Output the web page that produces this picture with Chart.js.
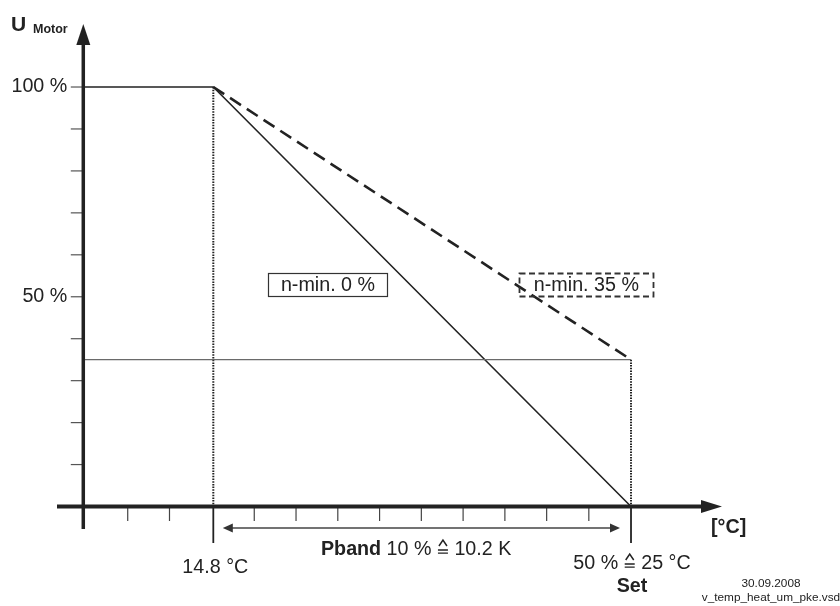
<!DOCTYPE html>
<html>
<head>
<meta charset="utf-8">
<script src="https://cdn.jsdelivr.net/npm/chart.js@4/dist/chart.umd.min.js"></script>
<style>
  html, body { margin: 0; padding: 0; background: #ffffff; }
  #wrap { width: 840px; height: 606px; }
</style>
</head>
<body>
<div id="wrap"><canvas id="c" width="840" height="606"></canvas></div>
<script>
// ---- data (x in °C, y in % motor voltage) ----
const xOrigin = 11.625;
const tempStart = 14.8;
const tempSet = 25.0;
const nmin0X = [11.625, 14.8, 25.0];
const nmin0Y = [100, 100, 0];
const nmin35X = [14.8, 25.0];
const nmin35Y = [100, 35];
const minLineX = [11.625, 25.0];
const minLineY = [35, 35];
const dropStartX = [14.8, 14.8];
const dropStartY = [100, 0];
const dropSetX = [25.0, 25.0];
const dropSetY = [35, 0];
const xTickValues = [12.71, 13.73, 14.8, 15.80, 16.82, 17.84, 18.86, 19.88, 20.90, 21.92, 22.94, 23.97, 25.0];
const yTickValues = [10, 20, 30, 40, 50, 60, 70, 80, 90, 100];
const yTickLabels = ['', '', '', '', '50 %', '', '', '', '', '100 %'];
const boxLabels = ['n-min. 0 %', 'n-min. 35 %'];
const boxX = [17.6, 23.91];
const boxY = [52.9, 52.9];

const FONT = '"Liberation Sans", Arial, "DejaVu Sans", sans-serif';
const INK = '#222222';
const FS = 19.7;
const HAT_W = 12;

function pts(xs, ys) { return xs.map((x, i) => ({ x: x, y: ys[i] })); }

// parts: {t:'text', b:bold} or {hat:true} (corresponds-to sign: ^ over =)
function richWidth(ctx, parts) {
  let w = 0;
  parts.forEach(p => {
    ctx.font = (p.b ? 'bold ' : '') + FS + 'px ' + FONT;
    w += p.hat ? HAT_W : ctx.measureText(p.t).width;
  });
  return w;
}
function drawRich(ctx, parts, cx, b) {
  let x = cx - richWidth(ctx, parts) / 2;
  ctx.textAlign = 'left';
  ctx.textBaseline = 'alphabetic';
  parts.forEach(p => {
    ctx.font = (p.b ? 'bold ' : '') + FS + 'px ' + FONT;
    if (p.hat) {
      const w = HAT_W;
      ctx.save();
      ctx.strokeStyle = ctx.fillStyle;
      ctx.lineWidth = 1.5;
      ctx.beginPath();
      ctx.moveTo(x + 2, b - 9); ctx.lineTo(x + w / 2, b - 15); ctx.lineTo(x + w - 2, b - 9);
      ctx.stroke();
      ctx.lineWidth = 1.3;
      ctx.beginPath();
      ctx.moveTo(x + 1, b - 5); ctx.lineTo(x + w - 1, b - 5);
      ctx.moveTo(x + 1, b - 1.8); ctx.lineTo(x + w - 1, b - 1.8);
      ctx.stroke();
      ctx.restore();
      x += w;
    } else {
      ctx.fillText(p.t, x, b);
      x += ctx.measureText(p.t).width;
    }
  });
}

const annot = {
  id: 'annot',
  afterDatasetsDraw(chart) {
    const ctx = chart.ctx;
    const xs = chart.scales.x, ys = chart.scales.y;
    const X = v => xs.getPixelForValue(v);
    const Y = v => ys.getPixelForValue(v);
    const ox = X(xOrigin), oy = Y(0);
    ctx.save();

    // y ticks (left of axis)
    ctx.strokeStyle = '#555';
    ctx.lineWidth = 1.2;
    yTickValues.forEach(v => {
      ctx.beginPath(); ctx.moveTo(ox - 12.5, Y(v)); ctx.lineTo(ox, Y(v)); ctx.stroke();
    });
    // x ticks (below axis)
    xTickValues.forEach(v => {
      const long = (v === tempStart || v === tempSet);
      ctx.strokeStyle = long ? INK : '#444';
      ctx.lineWidth = long ? 1.8 : 1.2;
      ctx.beginPath(); ctx.moveTo(X(v), oy); ctx.lineTo(X(v), oy + (long ? 36.5 : 14.5)); ctx.stroke();
    });

    // axes
    ctx.strokeStyle = INK; ctx.fillStyle = INK;
    ctx.lineWidth = 3.5;
    ctx.beginPath(); ctx.moveTo(ox, chart.chartArea.bottom); ctx.lineTo(ox, chart.chartArea.top + 18); ctx.stroke();
    ctx.beginPath();
    ctx.moveTo(ox, chart.chartArea.top);
    ctx.lineTo(ox - 7, chart.chartArea.top + 21);
    ctx.lineTo(ox + 7, chart.chartArea.top + 21);
    ctx.closePath(); ctx.fill();
    ctx.lineWidth = 4;
    ctx.beginPath(); ctx.moveTo(chart.chartArea.left, oy); ctx.lineTo(chart.chartArea.right - 18, oy); ctx.stroke();
    ctx.beginPath();
    ctx.moveTo(chart.chartArea.right, oy);
    ctx.lineTo(chart.chartArea.right - 21, oy - 6.5);
    ctx.lineTo(chart.chartArea.right - 21, oy + 6.5);
    ctx.closePath(); ctx.fill();

    // Pband double arrow
    const ay = oy + 21.5;
    const a1 = X(tempStart) + 9.5, a2 = X(tempSet) - 11;
    ctx.strokeStyle = '#444'; ctx.fillStyle = '#333'; ctx.lineWidth = 1.3;
    ctx.beginPath(); ctx.moveTo(a1 + 8, ay); ctx.lineTo(a2 - 8, ay); ctx.stroke();
    ctx.beginPath(); ctx.moveTo(a1, ay); ctx.lineTo(a1 + 10, ay - 4.5); ctx.lineTo(a1 + 10, ay + 4.5); ctx.closePath(); ctx.fill();
    ctx.beginPath(); ctx.moveTo(a2, ay); ctx.lineTo(a2 - 10, ay - 4.5); ctx.lineTo(a2 - 10, ay + 4.5); ctx.closePath(); ctx.fill();

    // texts
    ctx.fillStyle = INK;
    ctx.textBaseline = 'middle';
    ctx.font = FS + 'px ' + FONT;
    ctx.textAlign = 'right';
    yTickValues.forEach((v, i) => { if (yTickLabels[i]) ctx.fillText(yTickLabels[i], ox - 16, Y(v)); });

    ctx.textAlign = 'center';
    ctx.fillText('14.8 °C', X(tempStart) + 2, oy + 61.5);
    drawRich(ctx, [{ t: '50 % ' }, { hat: true }, { t: ' 25 °C' }], X(tempSet) + 1, oy + 62.5);
    ctx.textAlign = 'center';
    ctx.textBaseline = 'middle';
    ctx.font = 'bold ' + FS + 'px ' + FONT;
    ctx.fillText('Set', X(tempSet) + 1, oy + 80.5);

    // Pband label
    drawRich(ctx, [{ t: 'Pband', b: true }, { t: ' 10 % ' }, { hat: true }, { t: ' 10.2 K' }],
      (X(tempStart) + X(tempSet)) / 2 - 6, oy + 48.5);

    // axis titles
    ctx.textAlign = 'left';
    ctx.textBaseline = 'middle';
    ctx.font = 'bold ' + FS + 'px ' + FONT;
    ctx.fillText('[°C]', 711, oy + 21.5);
    ctx.textBaseline = 'alphabetic';
    ctx.font = 'bold 21px ' + FONT;
    ctx.fillText('U', 11, 31);
    ctx.font = 'bold 12.5px ' + FONT;
    ctx.fillText('Motor', 33, 32.5);

    // footer
    ctx.textBaseline = 'middle';
    ctx.textAlign = 'center';
    ctx.font = '11.8px ' + FONT;
    ctx.fillText('30.09.2008', 771, 584);
    ctx.fillText('v_temp_heat_um_pke.vsd', 771, 598);

    // boxed labels
    ctx.font = FS + 'px ' + FONT;
    boxLabels.forEach((t, i) => {
      const bx = X(boxX[i]), by = Y(boxY[i]);
      const w = ctx.measureText(t).width + (i === 0 ? 25 : 29);
      const h = 23;
      ctx.strokeStyle = '#333';
      if (i === 0) { ctx.setLineDash([]); ctx.lineWidth = 1.2; }
      else { ctx.setLineDash([6, 3.5]); ctx.lineWidth = 1.8; }
      ctx.strokeRect(Math.round(bx - w / 2) + 0.5, Math.round(by - h / 2) + 0.5, Math.round(w), h);
      ctx.setLineDash([]);
      ctx.fillStyle = INK;
      ctx.fillText(t, bx, by + 0.5);
    });
    ctx.restore();
  }
};

new Chart(document.getElementById('c'), {
  type: 'scatter',
  data: {
    datasets: [
      { label: 'min', data: pts(minLineX, minLineY), showLine: true, borderColor: '#6a6a6a', borderWidth: 1.2, pointRadius: 0 },
      { label: 'drop start', data: pts(dropStartX, dropStartY), showLine: true, borderColor: '#222', borderWidth: 2, borderDash: [1.5, 1.2], pointRadius: 0 },
      { label: 'drop set', data: pts(dropSetX, dropSetY), showLine: true, borderColor: '#222', borderWidth: 2, borderDash: [1.5, 1.2], pointRadius: 0 },
      { label: 'n-min 0', data: pts(nmin0X, nmin0Y), showLine: true, borderColor: INK, borderWidth: 1.6, pointRadius: 0 },
      { label: 'n-min 35', data: pts(nmin35X, nmin35Y), showLine: true, borderColor: INK, borderWidth: 2.6, borderDash: [13, 7], pointRadius: 0 }
    ]
  },
  options: {
    responsive: false,
    animation: false,
    devicePixelRatio: 1,
    layout: { padding: { left: 57, right: 118, top: 24, bottom: 77 } },
    plugins: { legend: { display: false }, tooltip: { enabled: false } },
    scales: {
      x: { type: 'linear', display: false, min: 10.983, max: 27.222 },
      y: { type: 'linear', display: false, min: -5.36, max: 115.02 }
    }
  },
  plugins: [annot]
});
</script>
</body>
</html>
